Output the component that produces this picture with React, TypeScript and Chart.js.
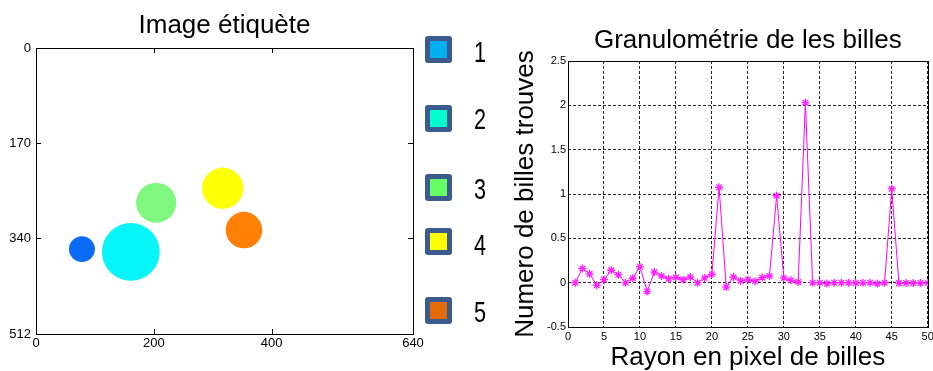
import React, { useEffect, useRef } from "react";
import { Chart, registerables } from "chart.js";

Chart.register(...registerables);

const FONT = "'Liberation Sans', Arial, Helvetica, sans-serif";

// ---- Left panel: labelled image ----
const imageTitle = "Image étiquète";
const blobX = [78, 161, 204, 317, 353];
const blobY = [360, 365, 277, 251, 326];
const blobRadius = [22, 49, 34, 35, 31];
const blobColors = ["#0A6CF5", "#05F5F8", "#80F880", "#FFFF05", "#FF8005"];
const imageXTicks = [0, 200, 400, 640];
const imageYTicks = [0, 170, 340, 512];

// ---- Legend ----
const legendLabels = ["1", "2", "3", "4", "5"];
const legendColors = ["#00B0F0", "#00FFCC", "#66FF66", "#FFFF00", "#E46C0A"];

// ---- Right panel: granulometry ----
const granTitle = "Granulométrie de les billes";
const granXLabel = "Rayon en pixel de billes";
const granYLabel = "Numero de billes trouves";
const rayons = [
  1, 2, 3, 4, 5, 6, 7, 8, 9, 10, 11, 12, 13, 14, 15, 16, 17, 18, 19, 20, 21, 22, 23, 24, 25,
  26, 27, 28, 29, 30, 31, 32, 33, 34, 35, 36, 37, 38, 39, 40, 41, 42, 43, 44, 45, 46, 47, 48, 49, 50,
];
const billes = [
  0.0, 0.16, 0.1, -0.03, 0.034, 0.14, 0.09, 0.0, 0.05, 0.18,
  -0.1, 0.12, 0.075, 0.045, 0.06, 0.034, 0.064, 0.0, 0.053, 0.094,
  1.075, -0.05, 0.064, 0.02, 0.034, 0.015, 0.057, 0.075, 0.98, 0.053,
  0.026, 0.008, 2.03, 0.0, 0.0, -0.01, 0.0, 0.0, 0.0, -0.005,
  0.0, 0.0, -0.012, 0.0, 1.06, -0.005, -0.005, -0.005, -0.005, -0.005,
];

const framePlugin = {
  id: "frame",
  afterDraw(chart: any) {
    const { ctx, chartArea } = chart;
    const { left, right, top, bottom } = chartArea;
    ctx.save();
    ctx.strokeStyle = "#000";
    ctx.lineWidth = 1;
    ctx.setLineDash([]);
    ctx.strokeRect(Math.round(left) + 0.5, Math.round(top) + 0.5, Math.round(right - left), Math.round(bottom - top));
    const opts = chart.options.plugins.frame || {};
    if (opts.innerTicks) {
      const L = 5;
      const xs = chart.scales.x;
      const ys = chart.scales.y;
      ctx.beginPath();
      xs.ticks.forEach((t: any) => {
        const px = Math.round(xs.getPixelForValue(t.value)) + 0.5;
        if (px <= left + 1 || px >= right - 1) return;
        ctx.moveTo(px, top);
        ctx.lineTo(px, top + L);
        ctx.moveTo(px, bottom);
        ctx.lineTo(px, bottom - L);
      });
      ys.ticks.forEach((t: any) => {
        const py = Math.round(ys.getPixelForValue(t.value)) + 0.5;
        if (py <= top + 1 || py >= bottom - 1) return;
        ctx.moveTo(left, py);
        ctx.lineTo(left + L, py);
        ctx.moveTo(right, py);
        ctx.lineTo(right - L, py);
      });
      ctx.stroke();
    }
    ctx.restore();
  },
};

function ImageChart() {
  const ref = useRef<HTMLCanvasElement>(null);
  useEffect(() => {
    const radiusPx = (ctx: any) => {
      const s = ctx.chart.scales && ctx.chart.scales.x;
      const raw = ctx.raw;
      if (!s || !raw) return 0;
      return Math.abs(s.getPixelForValue(raw.r) - s.getPixelForValue(0));
    };
    const chart = new Chart(ref.current!, {
      type: "scatter",
      data: {
        datasets: [
          {
            data: blobX.map((x, i) => ({ x, y: blobY[i], r: blobRadius[i] })),
            backgroundColor: blobColors,
            borderWidth: 0,
            pointRadius: radiusPx,
            pointHoverRadius: radiusPx,
          } as any,
        ],
      },
      options: {
        animation: false,
        responsive: false,
        maintainAspectRatio: false,
        devicePixelRatio: 1,
        events: [],
        layout: { padding: { left: 0, right: 20, top: 0, bottom: 0 } },
        plugins: {
          legend: { display: false },
          tooltip: { enabled: false },
          title: {
            display: true,
            text: imageTitle,
            fullSize: false,
            color: "#000",
            font: { family: FONT, size: 26, weight: "normal", lineHeight: 1 },
            padding: { top: 12.5, bottom: 9.5 },
          },
          frame: { innerTicks: true },
        } as any,
        scales: {
          x: {
            type: "linear",
            min: 0,
            max: 640,
            afterBuildTicks: (s: any) => {
              s.ticks = imageXTicks.map((v) => ({ value: v }));
            },
            afterFit: (s: any) => {
              s.height = 37;
              s.paddingLeft = 0;
              s.paddingRight = 0;
            },
            grid: { display: false, drawTicks: false },
            border: { display: false },
            ticks: {
              color: "#000",
              font: { family: FONT, size: 13 },
              padding: 2,
              maxRotation: 0,
              autoSkip: false,
              callback: (v: any) => String(v),
            },
          },
          y: {
            type: "linear",
            reverse: true,
            min: 0,
            max: 512,
            afterBuildTicks: (s: any) => {
              s.ticks = imageYTicks.map((v) => ({ value: v }));
            },
            afterFit: (s: any) => {
              s.width = 36;
            },
            grid: { display: false, drawTicks: false },
            border: { display: false },
            ticks: {
              color: "#000",
              font: { family: FONT, size: 13 },
              padding: 5,
              autoSkip: false,
              callback: (v: any) => String(v),
            },
          },
        },
      } as any,
      plugins: [framePlugin],
    });
    return () => chart.destroy();
  }, []);
  return (
    <canvas
      ref={ref}
      width={433}
      height={371}
      style={{ position: "absolute", left: 0, top: 0, width: 433, height: 371 }}
    />
  );
}

function GranuloChart() {
  const ref = useRef<HTMLCanvasElement>(null);
  useEffect(() => {
    const chart = new Chart(ref.current!, {
      type: "line",
      data: {
        datasets: [
          {
            data: rayons.map((x, i) => ({ x, y: billes[i] })),
            borderColor: "#FF00FF",
            borderWidth: 1,
            pointStyle: "star",
            pointRadius: 4,
            pointBorderColor: "#FF22FF",
            pointBackgroundColor: "#FF22FF",
            pointBorderWidth: 1.3,
            tension: 0,
            fill: false,
          },
        ],
      },
      options: {
        animation: false,
        responsive: false,
        maintainAspectRatio: false,
        devicePixelRatio: 1,
        events: [],
        layout: { padding: { left: 0, right: 3, top: 0, bottom: 0 } },
        plugins: {
          legend: { display: false },
          tooltip: { enabled: false },
          title: {
            display: true,
            text: granTitle,
            fullSize: false,
            color: "#000",
            font: { family: FONT, size: 26, weight: "normal", lineHeight: 1 },
            padding: { top: 28, bottom: 7 },
          },
        },
        scales: {
          x: {
            type: "linear",
            min: 0,
            max: 50,
            afterFit: (s: any) => {
              s.height = 44;
              s.paddingLeft = 0;
              s.paddingRight = 0;
            },
            grid: { color: "rgba(0,0,0,0.85)", lineWidth: 1, drawTicks: false },
            border: { display: false, dash: [3, 2] },
            ticks: {
              stepSize: 5,
              color: "#000",
              font: { family: FONT, size: 11 },
              padding: 3,
              maxRotation: 0,
              autoSkip: false,
              callback: (v: any) => String(v),
            },
            title: {
              display: true,
              text: granXLabel,
              color: "#000",
              font: { family: FONT, size: 26, lineHeight: 1 },
              padding: { top: 0, bottom: 0 },
            },
          },
          y: {
            type: "linear",
            min: -0.5,
            max: 2.5,
            afterFit: (s: any) => {
              s.width = 68;
            },
            grid: { color: "rgba(0,0,0,0.85)", lineWidth: 1, drawTicks: false },
            border: { display: false, dash: [3, 2] },
            ticks: {
              stepSize: 0.5,
              color: "#000",
              font: { family: FONT, size: 11 },
              padding: 2,
              autoSkip: false,
              callback: (v: any) => String(v),
            },
            title: {
              display: true,
              text: granYLabel,
              color: "#000",
              font: { family: FONT, size: 26, lineHeight: 1 },
              padding: { top: 13, bottom: 0 },
            },
          },
        },
      } as any,
      plugins: [framePlugin],
    });
    return () => chart.destroy();
  }, []);
  return (
    <canvas
      ref={ref}
      width={433}
      height={371}
      style={{ position: "absolute", left: 500, top: 0, width: 433, height: 371 }}
    />
  );
}

function Legend() {
  const squareCenters = [49.5, 118.5, 187, 241.5, 310.5];
  const textCenters = [51.5, 119, 188.5, 244.5, 312];
  return (
    <div style={{ position: "absolute", left: 0, top: 0, width: 933, height: 371, pointerEvents: "none" }}>
      {legendLabels.map((lab, i) => (
        <React.Fragment key={lab}>
          <div
            style={{
              position: "absolute",
              left: 425,
              top: squareCenters[i] - 13.5,
              width: 27,
              height: 27,
              boxSizing: "border-box",
              border: "5px solid #3B5B8C",
              borderRadius: 3,
              background: legendColors[i],
            }}
          />
          <div
            style={{
              position: "absolute",
              left: 474,
              top: textCenters[i] - 14.7,
              fontFamily: FONT,
              fontSize: 30,
              lineHeight: "30px",
              color: "#000",
              transform: "scaleX(0.72)",
              transformOrigin: "left center",
              whiteSpace: "nowrap",
            }}
          >
            {lab}
          </div>
        </React.Fragment>
      ))}
    </div>
  );
}

export default function App() {
  return (
    <div
      style={{
        position: "absolute",
        left: 0,
        top: 0,
        width: 933,
        height: 371,
        background: "#fff",
        overflow: "hidden",
      }}
    >
      <ImageChart />
      <GranuloChart />
      <Legend />
    </div>
  );
}
